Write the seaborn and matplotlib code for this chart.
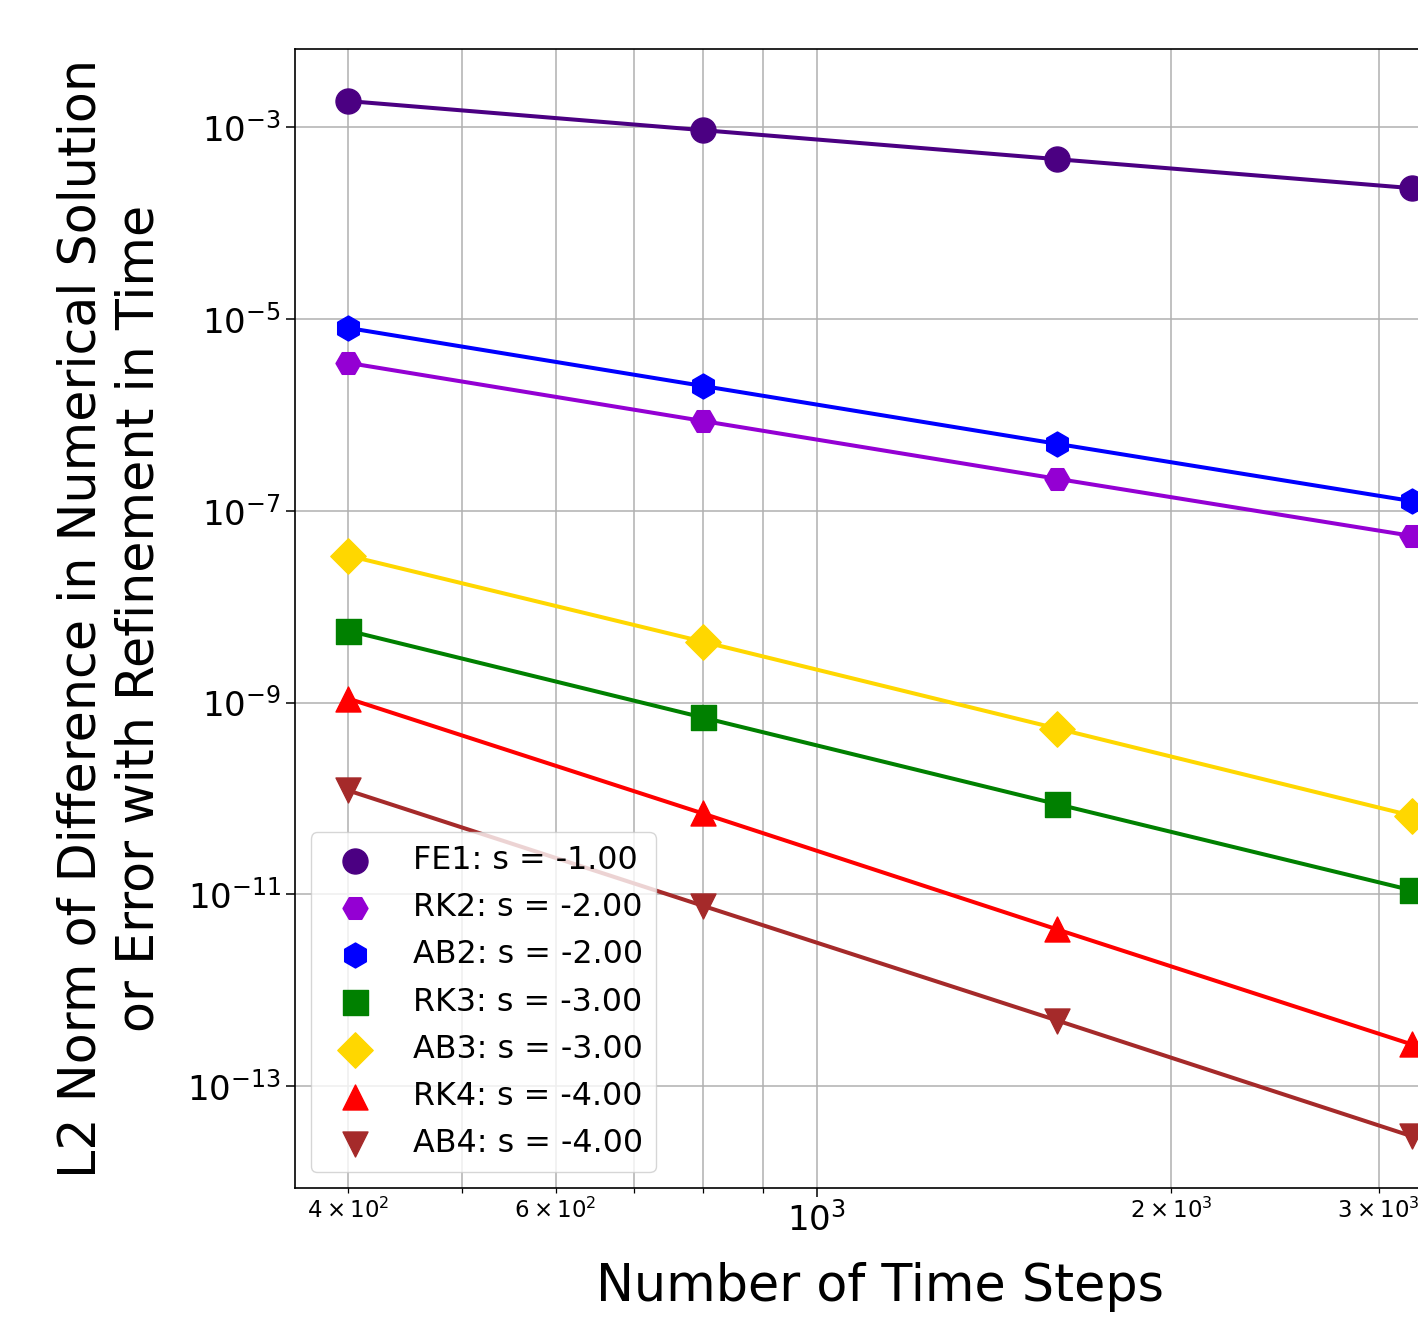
import numpy as np
import pandas as pd
import matplotlib
matplotlib.use("Agg")
import matplotlib.pyplot as plt
import matplotlib.ticker as mticker
import seaborn as sns

# ---- data ----
time_steps = [400, 800, 1600, 3200]
methods = ["FE1", "RK2", "AB2", "RK3", "AB3", "RK4", "AB4"]
slopes = [-1.00, -2.00, -2.00, -3.00, -3.00, -4.00, -4.00]
err_FE1 = [1.87e-3, 9.3e-4, 4.63e-4, 2.31e-4]
err_RK2 = [3.48e-6, 8.63e-7, 2.15e-7, 5.46e-8]
err_AB2 = [8.05e-6, 2.0e-6, 4.98e-7, 1.26e-7]
err_RK3 = [5.61e-9, 6.98e-10, 8.7e-11, 1.1e-11]
err_AB3 = [3.40e-8, 4.31e-9, 5.35e-10, 6.6e-11]
err_RK4 = [1.1e-9, 6.97e-11, 4.3e-12, 2.72e-13]
err_AB4 = [1.21e-10, 7.6e-12, 4.83e-13, 3.0e-14]
errors = [err_FE1, err_RK2, err_AB2, err_RK3, err_AB3, err_RK4, err_AB4]

colors = ["indigo", "darkviolet", "blue", "green", "gold", "red", "brown"]
markers = ["o", "H", "h", "s", "D", "^", "v"]

W, H = 1418, 1317
fig = plt.figure(figsize=(W / 100, H / 100), dpi=100)
ax = fig.add_axes([295 / W, (H - 1188) / H, 1170 / W, (1188 - 49.3) / H])

for name, s, err, c, m in zip(methods, slopes, errors, colors, markers):
    df = pd.DataFrame({"n": time_steps, "err": err})
    sns.lineplot(data=df, x="n", y="err", ax=ax, color=c, linewidth=2.9,
                 legend=False, zorder=2)
    sns.scatterplot(data=df, x="n", y="err", ax=ax, color=c, marker=m,
                    s=18 ** 2, edgecolor=c, linewidth=1.0, zorder=3,
                    label=f"{name}: s = {s:.2f}")

ax.set_xscale("log")
ax.set_yscale("log")
ax.yaxis.set_major_locator(mticker.LogLocator(base=10, numticks=8))
ax.yaxis.set_minor_locator(mticker.NullLocator())

ax.grid(True, which="major", color="#b0b0b0", linewidth=1.1)
ax.grid(True, which="minor", axis="x", color="#b0b0b0", linewidth=1.1)
ax.set_axisbelow(True)

ax.tick_params(which="major", labelsize=24.5, length=6.5, width=1.1)
ax.tick_params(which="minor", labelsize=16.5, length=3.3, width=0.9)
for sp in ax.spines.values():
    sp.set_linewidth(1.2)
    sp.set_color("black")

ax.set_xlabel("Number of Time Steps", fontsize=36.5, labelpad=17.5)
ax.set_ylabel("L2 Norm of Difference in Numerical Solution\nor Error with Refinement in Time",
              fontsize=36.5, labelpad=16.6)

ax.legend(loc="lower left", fontsize=22.9, scatterpoints=1, framealpha=0.8,
          labelspacing=0.51)

fig.savefig("out.png", dpi=100)
